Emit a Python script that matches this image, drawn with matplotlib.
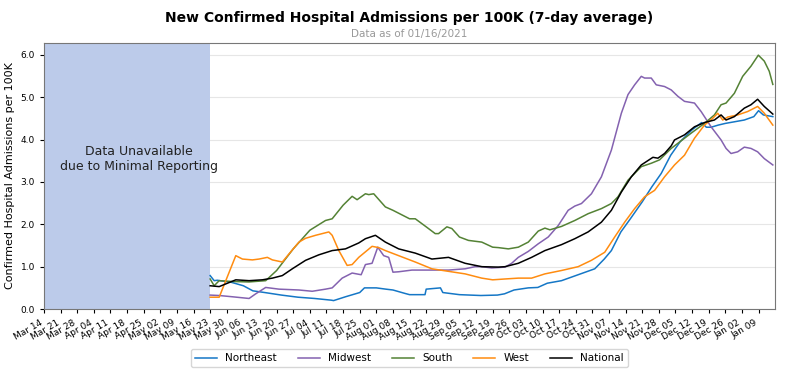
import matplotlib
matplotlib.use("Agg")
import matplotlib.pyplot as plt
import matplotlib.dates as mdates
from datetime import datetime, timedelta

# days after May 23, 2020 and 7-day average admissions per 100K
start = datetime(2020, 5, 23)

ne_day = [0, 1.7, 3, 9, 14, 18, 23, 30, 37, 44, 51, 52, 57, 63, 65, 70, 74, 77, 82, 84,
          90.5, 91, 97, 98, 105, 114, 121, 124, 128, 134, 138, 142, 148, 154, 158, 162,
          166, 169, 173, 177, 182, 186, 190, 194, 198, 203, 207, 209, 211, 214, 217, 221,
          225, 229, 231, 233, 237]
ne_val = [0.79, 0.67, 0.68, 0.63, 0.55, 0.43, 0.39, 0.33, 0.28, 0.25, 0.21, 0.20, 0.29, 0.39,
          0.50, 0.50, 0.47, 0.45, 0.37, 0.34, 0.34, 0.47, 0.50, 0.39, 0.34, 0.32, 0.33, 0.36,
          0.45, 0.50, 0.51, 0.61, 0.67, 0.79, 0.87, 0.95, 1.18, 1.38, 1.82, 2.13, 2.53, 2.88,
          3.20, 3.63, 3.95, 4.23, 4.40, 4.29, 4.29, 4.34, 4.38, 4.42, 4.46, 4.54, 4.68, 4.58,
          4.54]

mw_day = [0, 3.8, 9.4, 16.4, 19.2, 23.4, 29, 37.4, 43, 48.6, 51.4, 55.6, 59.8, 63.6, 65.4,
          68.2, 70.6, 73.1, 75.2, 77, 79.4, 85, 93.4, 100.4, 107.4, 111.6, 114.4, 118.6,
          124.2, 127, 129.8, 134, 138.2, 142.4, 146.6, 150.8, 153.6, 156.4, 160.6, 164.8,
          169, 173.2, 176, 178.8, 181.6, 183, 185.8, 187.9, 191.4, 194.2, 197, 199.8, 204,
          206.8, 211, 215.2, 217.3, 219.4, 222.2, 225, 227.8, 230.6, 233.4, 237]
mw_val = [0.33, 0.32, 0.29, 0.25, 0.36, 0.51, 0.47, 0.45, 0.42, 0.47, 0.50, 0.73, 0.85, 0.81,
          1.05, 1.08, 1.46, 1.26, 1.22, 0.87, 0.88, 0.92, 0.92, 0.92, 0.95, 1.00, 1.00, 0.97,
          0.99, 1.08, 1.22, 1.36, 1.54, 1.70, 1.97, 2.33, 2.43, 2.49, 2.72, 3.12, 3.75, 4.62,
          5.06, 5.29, 5.49, 5.45, 5.45, 5.29, 5.25, 5.17, 5.02, 4.90, 4.86, 4.66, 4.30, 3.99,
          3.79, 3.67, 3.71, 3.82, 3.79, 3.71, 3.55, 3.40]

so_day = [0, 1.7, 3.8, 9.4, 16.4, 23.4, 28, 35, 42, 48.6, 51.4, 56, 59.8, 61.9, 65.4, 66.8,
          68.9, 70, 73.8, 77, 84, 86.4, 91, 94.8, 96.2, 99.7, 101.8, 105, 108.8, 114.4, 119,
          121.4, 125.6, 129.8, 134, 138.2, 141, 143.1, 148, 153.6, 159.2, 164.8, 169, 171.8,
          176, 181.6, 185.8, 189.3, 194.2, 197, 202.6, 208.2, 212.4, 215.2, 217.3, 220.8,
          224.3, 227.8, 230.9, 233.4, 235.5, 237]
so_val = [0.71, 0.55, 0.67, 0.65, 0.64, 0.67, 0.91, 1.42, 1.86, 2.09, 2.13, 2.45, 2.66, 2.58,
          2.72, 2.70, 2.72, 2.65, 2.41, 2.33, 2.13, 2.13, 1.94, 1.78, 1.78, 1.94, 1.90, 1.70,
          1.62, 1.58, 1.46, 1.45, 1.42, 1.46, 1.58, 1.84, 1.91, 1.87, 1.95, 2.09, 2.25, 2.37,
          2.49, 2.65, 3.04, 3.36, 3.44, 3.52, 3.79, 3.91, 4.15, 4.38, 4.58, 4.82, 4.86, 5.09,
          5.49, 5.73, 5.99, 5.85, 5.61, 5.30]

we_day = [0, 3.8, 10.8, 13.6, 17.8, 20.6, 24.1, 26.2, 30.4, 33.2, 37.4, 40.2, 44.4, 50, 51.4,
          54.2, 57.7, 59.8, 62.6, 68.2, 71, 73.8, 79.4, 86.4, 93.4, 100.4, 107.4, 114.4, 119,
          124.2, 129.8, 135.4, 141, 148, 155, 160.6, 166.2, 170.4, 174.6, 178.8, 183, 187.2,
          191.4, 195.6, 199.8, 204, 208.2, 211.7, 213.8, 215.9, 218, 222.2, 226.4, 230.6,
          233.4, 237]
we_val = [0.28, 0.28, 1.26, 1.18, 1.16, 1.18, 1.22, 1.16, 1.11, 1.30, 1.58, 1.67, 1.74, 1.82,
          1.74, 1.38, 1.03, 1.05, 1.22, 1.48, 1.45, 1.38, 1.26, 1.11, 0.95, 0.89, 0.83, 0.73,
          0.69, 0.71, 0.73, 0.73, 0.83, 0.91, 1.00, 1.15, 1.34, 1.70, 2.05, 2.37, 2.65, 2.80,
          3.12, 3.40, 3.63, 4.03, 4.34, 4.50, 4.62, 4.46, 4.53, 4.58, 4.66, 4.78, 4.62, 4.34]

na_day = [0, 3.8, 10.8, 16.4, 22, 26.2, 30.4, 34.6, 40.2, 45.8, 51.4, 57, 62.6, 65.4, 69.6,
          73.8, 79.4, 86.4, 93.4, 100.4, 107.4, 114.4, 121.4, 124.2, 129.8, 135.4, 141, 148,
          153.6, 159.2, 164.8, 169, 173.2, 177.4, 181.6, 186.5, 188.6, 191.4, 194.2, 195.6,
          199.8, 204, 208.2, 212.4, 215.2, 217.3, 220.8, 225, 227.8, 230.6, 233.4, 237]
na_val = [0.55, 0.53, 0.69, 0.67, 0.69, 0.73, 0.79, 0.95, 1.15, 1.28, 1.38, 1.42, 1.56, 1.66,
          1.74, 1.58, 1.42, 1.32, 1.18, 1.22, 1.08, 1.00, 0.99, 1.00, 1.08, 1.22, 1.38, 1.52,
          1.66, 1.82, 2.05, 2.33, 2.76, 3.12, 3.40, 3.58, 3.56, 3.67, 3.85, 3.99, 4.11, 4.30,
          4.40, 4.46, 4.58, 4.46, 4.54, 4.74, 4.82, 4.95, 4.78, 4.60]

series = [
    ("Northeast", ne_day, ne_val, "#1577c6"),
    ("Midwest", mw_day, mw_val, "#8462b0"),
    ("South", so_day, so_val, "#548235"),
    ("West", we_day, we_val, "#ff8c10"),
    ("National", na_day, na_val, "black"),
]

fig, ax = plt.subplots(figsize=(7.85, 3.76), dpi=100)
fig.subplots_adjust(left=0.056, right=0.987, top=0.886, bottom=0.178)

ax.axvspan(datetime(2020, 3, 14), start, color="#bccbea", lw=0, zorder=1)
ax.text(datetime(2020, 4, 23), 3.55, "Data Unavailable\ndue to Minimal Reporting",
        ha="center", va="center", fontsize=9, color="#222222", zorder=3)

for name, days, vals, col in series:
    dates = [start + timedelta(days=d) for d in days]
    ax.plot(dates, vals, color=col, lw=1.1, label=name, zorder=2)

ax.set_xlim(datetime(2020, 3, 14), datetime(2021, 1, 15, 20))
ax.set_ylim(0, 6.28)
ax.set_yticks([0, 1, 2, 3, 4, 5, 6])
ax.yaxis.set_major_formatter(plt.FormatStrFormatter("%.1f"))
ax.xaxis.set_major_locator(mdates.WeekdayLocator(byweekday=mdates.SA))
ax.xaxis.set_major_formatter(mdates.DateFormatter("%b %d"))
plt.setp(ax.get_xticklabels(), rotation=30, ha="right")
ax.tick_params(labelsize=6.5, length=3)

ax.grid(axis="y", color="#e6e6e6", lw=0.8)
ax.set_axisbelow(True)
for sp in ax.spines.values():
    sp.set_color("#777777")

ax.set_ylabel("Confirmed Hospital Admissions per 100K", fontsize=8)
fig.text(0.521, 0.952, "New Confirmed Hospital Admissions per 100K (7-day average)",
         ha="center", va="center", fontsize=10, fontweight="bold")
fig.text(0.521, 0.909, "Data as of 01/16/2021", ha="center", va="center",
         fontsize=7.5, color="#999999")

ax.legend(loc="center", bbox_to_anchor=(0.5, -0.185), ncol=5, fontsize=7.5,
          frameon=True, handlelength=2.1, handletextpad=0.8, columnspacing=2.0)

plt.savefig("out.png", dpi=100)
